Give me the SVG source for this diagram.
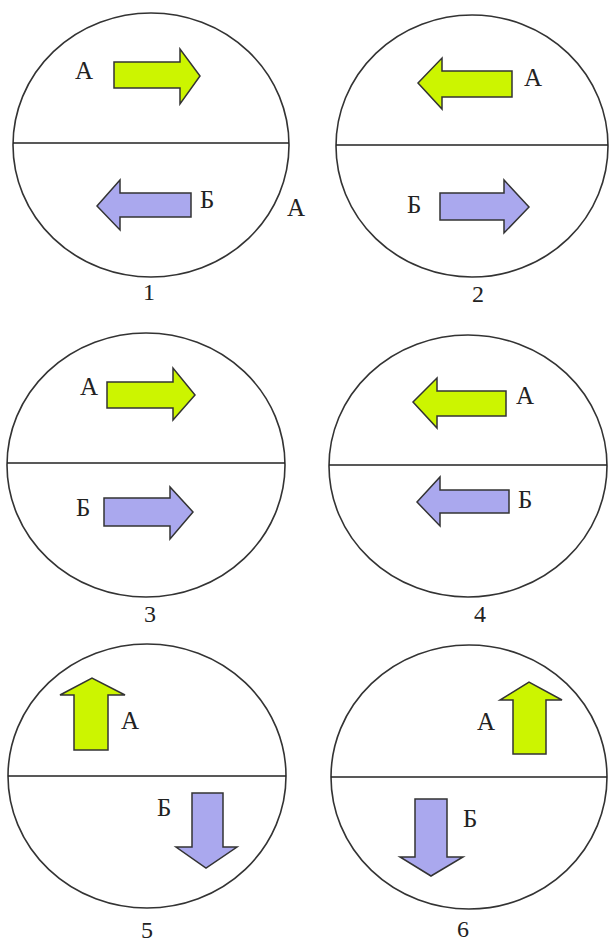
<svg xmlns="http://www.w3.org/2000/svg" width="609" height="942" viewBox="0 0 609 942">
<style>
.c{fill:#fff;stroke:#333;stroke-width:1.6}
.d{stroke:#222;stroke-width:1.6}
.g{fill:#ccf500;stroke:#333;stroke-width:1.5;stroke-linejoin:miter}
.b{fill:#aaa8ee;stroke:#333;stroke-width:1.5;stroke-linejoin:miter}
.l{font-family:"Liberation Serif",serif;font-size:25px;fill:#222}
.n{font-family:"Liberation Serif",serif;font-size:24px;fill:#222;text-anchor:middle}
</style>
<rect width="609" height="942" fill="#fff"/>
<g id="disk1">
<ellipse class="c" cx="151" cy="145" rx="138" ry="132"/>
<line class="d" x1="13" y1="143" x2="289" y2="143"/>
<polygon class="g" points="114,62 180,62 180,49 200,76 180,104 180,88 114,88"/>
<polygon class="b" points="191,193 120,193 120,180 97,206 120,230 120,217 191,217"/>
<text class="l" x="75" y="79">А</text>
<text class="l" x="200" y="208">Б</text>
<text class="l" x="287" y="216">А</text>
<text class="n" x="149" y="300">1</text>
</g>
<g id="disk2">
<ellipse class="c" cx="472" cy="146" rx="136" ry="131"/>
<line class="d" x1="336" y1="145" x2="608" y2="145"/>
<polygon class="g" points="512,71 442,71 442,58 418,83 442,109 442,97 512,97"/>
<polygon class="b" points="440,193 504,193 504,180 529,207 504,233 504,220 440,220"/>
<text class="l" x="524" y="86">А</text>
<text class="l" x="407" y="213">Б</text>
<text class="n" x="478" y="302">2</text>
</g>
<g id="disk3">
<ellipse class="c" cx="146" cy="465" rx="139" ry="132"/>
<line class="d" x1="7" y1="463" x2="285" y2="463"/>
<polygon class="g" points="107,382 173,382 173,368 195,395 173,420 173,408 107,408"/>
<polygon class="b" points="104,498 170,498 170,487 193,512 170,539 170,526 104,526"/>
<text class="l" x="80" y="395">А</text>
<text class="l" x="76" y="516">Б</text>
<text class="n" x="150" y="622">3</text>
</g>
<g id="disk4">
<ellipse class="c" cx="468" cy="466" rx="139" ry="131"/>
<line class="d" x1="329" y1="465" x2="607" y2="465"/>
<polygon class="g" points="506,391 437,391 437,378 413,402 437,428 437,416 506,416"/>
<polygon class="b" points="509,490 440,490 440,477 417,502 440,526 440,513 509,513"/>
<text class="l" x="516" y="404">А</text>
<text class="l" x="518" y="508">Б</text>
<text class="n" x="480" y="622">4</text>
</g>
<g id="disk5">
<ellipse class="c" cx="147" cy="776" rx="139" ry="132"/>
<line class="d" x1="8" y1="776" x2="286" y2="776"/>
<polygon class="g" points="74,750 74,695 60,695 92,678 125,695 108,695 108,750"/>
<polygon class="b" points="192,793 223,793 223,847 237,847 206,868 176,847 192,847"/>
<text class="l" x="121" y="729">А</text>
<text class="l" x="157" y="816">Б</text>
<text class="n" x="147" y="938">5</text>
</g>
<g id="disk6">
<ellipse class="c" cx="469" cy="777" rx="138" ry="132"/>
<line class="d" x1="331" y1="777" x2="607" y2="777"/>
<polygon class="g" points="513,754 513,700 500,700 529,682 562,700 546,700 546,754"/>
<polygon class="b" points="415,799 447,799 447,857 463,857 431,876 400,857 415,857"/>
<text class="l" x="477" y="730">А</text>
<text class="l" x="463" y="827">Б</text>
<text class="n" x="463" y="937">6</text>
</g>
<g id="connectors"/>
</svg>
